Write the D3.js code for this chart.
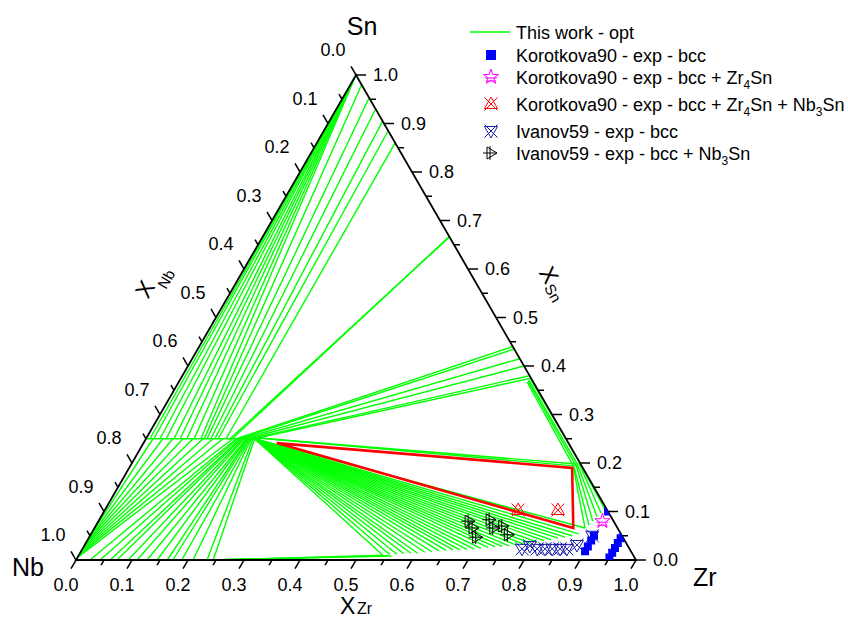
<!DOCTYPE html>
<html><head><meta charset="utf-8">
<script src="https://cdn.jsdelivr.net/npm/d3@7"></script>
<style>
body{margin:0;background:#fff;}
text{font-family:Arial,"Liberation Sans",sans-serif;fill:#000;}
</style>
</head><body>
<svg id="c" width="848" height="619"></svg>
<script>
// ---------------- DATA (compositions: [xZr, xSn], xNb = 1 - xZr - xSn) ----------------
const tickValues = [0,0.1,0.2,0.3,0.4,0.5,0.6,0.7,0.8,0.9,1.0];
const tickLabels = ["0.0","0.1","0.2","0.3","0.4","0.5","0.6","0.7","0.8","0.9","1.0"];
const minorTickValues = [0.05,0.15,0.25,0.35,0.45,0.55,0.65,0.75,0.85,0.95];

// liquid (Sn-rich) + Nb3Sn tie lines [zrLiq, snLiq, zrA15, snA15]
const liqNb3SnTies = [
  [0.140,0.860,0.143,0.25],[0.115,0.885,0.129,0.25],[0.095,0.905,0.123,0.25],
  [0.070,0.930,0.116,0.25],[0.047,0.953,0.109,0.25],[0.020,0.980,0.104,0.25],
  [0.000,1.000,0.098,0.25],[0.000,0.995,0.086,0.25],[0.000,0.990,0.073,0.25],
  [0.000,0.985,0.061,0.25],[0.000,0.980,0.050,0.25],[0.000,0.970,0.036,0.25],
  [0.000,0.960,0.025,0.25],[0.000,0.950,0.014,0.25],[0.000,0.940,0.007,0.25]
];
// (Nb,Zr)3Sn homogeneity segment
const nb3snSegment = [[0.000,0.25],[0.195,0.25]];
// ZrSn2 + Nb3Sn
const zrSn2Ties = [[0.334,0.666,0.150,0.25],[0.333,0.667,0.154,0.25]];
// Zr5Sn4/Zr5Sn3 + Nb3Sn
const zr5sn3Ties = [
  [0.560,0.440,0.161,0.25],[0.565,0.435,0.166,0.25],[0.585,0.415,0.171,0.25],
  [0.600,0.400,0.179,0.25],[0.620,0.380,0.186,0.25],[0.625,0.375,0.193,0.25]
];
// Zr5Sn3 + Zr4Sn
const zr5sn3Zr4SnTies = [
  [0.623,0.375,0.800,0.200],[0.623,0.371,0.798,0.196],
  [0.623,0.369,0.796,0.194],[0.622,0.367,0.793,0.192]
];
// Nb3Sn + Zr4Sn
const nb3snZr4SnTies = [[0.195,0.252,0.794,0.198],[0.195,0.252,0.792,0.194]];
// Zr4Sn + bcc
const zr4snBccTies = [
  [0.792,0.192,0.876,0.066],[0.792,0.194,0.880,0.072],[0.795,0.196,0.883,0.080],
  [0.796,0.198,0.886,0.089],[0.798,0.200,0.889,0.097],[0.798,0.201,0.892,0.105]
];
// Nb3Sn (Zr-rich end) + bcc fan
const fanOrigin = [0.194,0.25];
const fanBccZr = [0.543,0.555,0.567,0.579,0.591,0.603,0.615,0.627,0.639,0.651,0.663,0.675,0.687,0.699,0.711,
                  0.723,0.735,0.747,0.759,0.770,0.782,0.793,0.805,0.816,0.827,0.838,0.850,0.861,0.871,0.876];
const fanBccSn = [0.010,0.011,0.012,0.013,0.014,0.014,0.016,0.017,0.019,0.020,0.021,0.021,0.022,0.023,0.024,
                  0.026,0.027,0.028,0.029,0.031,0.033,0.035,0.037,0.040,0.042,0.045,0.047,0.050,0.054,0.066];
// bcc(Nb) near Nb corner + Nb3Sn
const nbCornerBccSn = [0.045,0.040,0.035,0.030,0.025,0.020,0.015,0.010,0.005];
const nbCornerA15Zr = [0.0125,0.030,0.048,0.066,0.084,0.102,0.120,0.1375,0.155];
// bcc (bottom edge) + Nb3Sn
const bccBottomZr = [0.025,0.043,0.061,0.073,0.093,0.109,0.127,0.145,0.163,0.173,0.189,0.209,0.234,0.245];
const bccBottomA15Zr = [0.161,0.164,0.168,0.170,0.173,0.175,0.179,0.180,0.182,0.184,0.186,0.188,0.191,0.194];
// bcc miscibility gap
const bccGapTies = [[0.2446,0,0.543,0.010],[0.241,0,0.552,0.009],[0.2375,0,0.560,0.008]];
// experimental tie triangle (red)
const redTriangle = [[0.238,0.241],[0.791,0.190],[0.855,0.066]];

// experimental points
const korBcc = [[0.90,0.018],[0.90,0.028],[0.90,0.040],[0.90,0.050],
                [0.95,0.005],[0.95,0.015],[0.95,0.025],[0.95,0.035],[0.95,0.045],[0.95,0.055],
                [0.90,0.100]];
const korBccZr4Sn = [[0.90,0.080]];
const korBccZr4SnNb3Sn = [[0.738,0.103],[0.809,0.103]];
const ivaBcc = [[0.785,0.023],[0.796,0.029],[0.812,0.023],[0.826,0.023],[0.839,0.023],
                [0.853,0.023],[0.865,0.023],[0.879,0.031],[0.897,0.050]];
const ivaBccNb3Sn = [[0.662,0.080],[0.676,0.066],[0.692,0.047],[0.698,0.083],[0.713,0.066],[0.727,0.070],[0.746,0.052]];

const legendLabels = [
  [["This work - opt",0]],
  [["Korotkova90 - exp - bcc",0]],
  [["Korotkova90 - exp - bcc + Zr",0],["4",1],["Sn",0]],
  [["Korotkova90 - exp - bcc + Zr",0],["4",1],["Sn + Nb",0],["3",1],["Sn",0]],
  [["Ivanov59 - exp - bcc",0]],
  [["Ivanov59 - exp - bcc + Nb",0],["3",1],["Sn",0]]
];

// ---------------- DRAWING ----------------
const svg = d3.select("#c");
const sx = d3.scaleLinear().domain([0,1]).range([76,636]);
const sy = d3.scaleLinear().domain([0,1]).range([560,75]);
const P = (zr,sn) => [sx(zr+sn/2), sy(sn)];
const GREEN = "#00ff00";

const defs = svg.append("defs");
defs.append("clipPath").attr("id","tri").append("path")
  .attr("d", "M"+P(0,0)+"L"+P(1,0)+"L"+P(0,1)+"Z");

const gTies = svg.append("g").attr("stroke",GREEN).attr("stroke-width",1.4).attr("fill","none");
function tie(z1,s1,z2,s2){
  const a=P(z1,s1), b=P(z2,s2);
  gTies.append("line").attr("x1",a[0]).attr("y1",a[1]).attr("x2",b[0]).attr("y2",b[1]);
}
[liqNb3SnTies, zrSn2Ties, zr5sn3Ties, zr5sn3Zr4SnTies, nb3snZr4SnTies, zr4snBccTies, bccGapTies]
  .forEach(arr => arr.forEach(d => tie(d[0],d[1],d[2],d[3])));
tie(nb3snSegment[0][0],nb3snSegment[0][1],nb3snSegment[1][0],nb3snSegment[1][1]);
fanBccZr.forEach((z,i)=>tie(fanOrigin[0],fanOrigin[1],z,fanBccSn[i]));
nbCornerBccSn.forEach((s,i)=>tie(0,s,nbCornerA15Zr[i],0.25));
bccBottomZr.forEach((z,i)=>tie(z,0,bccBottomA15Zr[i],0.25));

// red triangle
svg.append("path")
  .attr("d", d3.line()(redTriangle.map(d=>P(d[0],d[1]))) + "Z")
  .attr("fill","none").attr("stroke","#ff0000").attr("stroke-width",2.6).attr("stroke-linejoin","miter");

// ---------------- AXES ----------------
const gAx = svg.append("g").attr("stroke","#000").attr("fill","none");
gAx.append("path").attr("d","M"+P(0,0)+"L"+P(1,0)+"L"+P(0,1)+"Z").attr("stroke-width",1.8).attr("stroke-linejoin","miter");

function drawTicks(vals, len){
  vals.forEach(v=>{
    let p = P(v,0);
    gAx.append("line").attr("x1",p[0]).attr("y1",p[1]).attr("x2",p[0]-0.5*len).attr("y2",p[1]+0.866*len).attr("stroke-width",1.5);
    p = P(0,1-v);
    gAx.append("line").attr("x1",p[0]).attr("y1",p[1]).attr("x2",p[0]-0.5*len).attr("y2",p[1]-0.866*len).attr("stroke-width",1.5);
    p = P(1-v,v);
    gAx.append("line").attr("x1",p[0]).attr("y1",p[1]).attr("x2",p[0]+len).attr("y2",p[1]).attr("stroke-width",1.5);
  });
}
drawTicks(tickValues,10);
drawTicks(minorTickValues,6);

const gLab = svg.append("g").attr("font-size","18px");
tickValues.forEach((v,i)=>{
  let p = P(v,0);
  gLab.append("text").attr("x",p[0]-10).attr("y",p[1]+25).attr("text-anchor","middle").attr("dominant-baseline","central").text(tickLabels[i]);
  p = P(0,1-v);
  gLab.append("text").attr("x",p[0]-23).attr("y",p[1]-25).attr("text-anchor","middle").attr("dominant-baseline","central").text(tickLabels[i]);
  p = P(1-v,v);
  gLab.append("text").attr("x",p[0]+17).attr("y",p[1]).attr("text-anchor","start").attr("dominant-baseline","central").text(tickLabels[i]);
});

// corner labels
svg.append("text").attr("x",362).attr("y",35).attr("text-anchor","middle").attr("font-size","25px").text("Sn");
svg.append("text").attr("x",12).attr("y",576).attr("font-size","25px").text("Nb");
svg.append("text").attr("x",693).attr("y",586).attr("font-size","25px").text("Zr");

// axis titles
svg.append("text").attr("x",340).attr("y",614).attr("font-size","23px").text("X");
svg.append("text").attr("x",357).attr("y",614).attr("font-size","16px").text("Zr");
function rotText(x,y,ang,size,t){
  svg.append("text").attr("transform",`translate(${x},${y}) rotate(${ang})`)
    .attr("text-anchor","middle").attr("dominant-baseline","central").attr("font-size",size).text(t);
}
rotText(145,289,-60,"23px","X");
rotText(166,279,-60,"15px","Nb");
rotText(549,275,60,"23px","X");
rotText(553,293,60,"15px","Sn");

// ---------------- MARKERS ----------------
const symRed = "M0,-7L6.5,4.5L-6.5,4.5Z M-6.5,-6.5L6.5,6.5 M6.5,-6.5L-6.5,6.5";
const symNavy = "M0,7L6.5,-4.5L-6.5,-4.5Z M-6.5,-6.5L6.5,6.5 M6.5,-6.5L-6.5,6.5";
const symBlack = "M-4,-6L6,0L-4,6Z M-8,0L6,0 M-1,-7L-1,7";
const symStar = d3.symbol(d3.symbolStar,70)() + " M-6,1L6,1 M-5,4L5,4";
const symSquare = d3.symbol(d3.symbolSquare,64)();
const symSquareLeg = d3.symbol(d3.symbolSquare,100)();

const gM = svg.append("g").attr("clip-path","url(#tri)");
function markers(arr, path, stroke, fill){
  arr.forEach(d=>{
    const p=P(d[0],d[1]);
    gM.append("path").attr("d",path).attr("transform",`translate(${p[0]},${p[1]})`)
      .attr("fill",fill).attr("stroke",stroke).attr("stroke-width",1);
  });
}
markers(ivaBccNb3Sn, symBlack, "#000", "none");
markers(ivaBcc, symNavy, "#1a1aa8", "none");
markers(korBccZr4SnNb3Sn, symRed, "#ff0000", "none");
markers(korBccZr4Sn, symStar, "#ff00ff", "none");
markers(korBcc, symSquare, "none", "#0000ff");

// ---------------- LEGEND ----------------
const legY = [32,55,77,104,131,153];
const gL = svg.append("g");
gL.append("line").attr("x1",470).attr("x2",510).attr("y1",legY[0]).attr("y2",legY[0]).attr("stroke",GREEN).attr("stroke-width",1.4);
const legSyms = [null,[symSquareLeg,"none","#0000ff"],[symStar,"#ff00ff","none"],[symRed,"#ff0000","none"],[symNavy,"#1a1aa8","none"],[symBlack,"#000","none"]];
legSyms.forEach((s,i)=>{
  if(!s) return;
  gL.append("path").attr("d",s[0]).attr("transform",`translate(491,${legY[i]})`)
    .attr("stroke",s[1]).attr("fill",s[2]).attr("stroke-width",1);
});
legendLabels.forEach((segs,i)=>{
  const t = gL.append("text").attr("x",516).attr("y",legY[i]+6.5).attr("font-size","18px");
  segs.forEach((s,j)=>{
    const prevSub = j>0 && segs[j-1][1];
    const ts = t.append("tspan").text(s[0]);
    if(s[1]) ts.attr("font-size","12px").attr("dy",5);
    else if(prevSub) ts.attr("dy",-5);
  });
});
</script>
</body></html>
